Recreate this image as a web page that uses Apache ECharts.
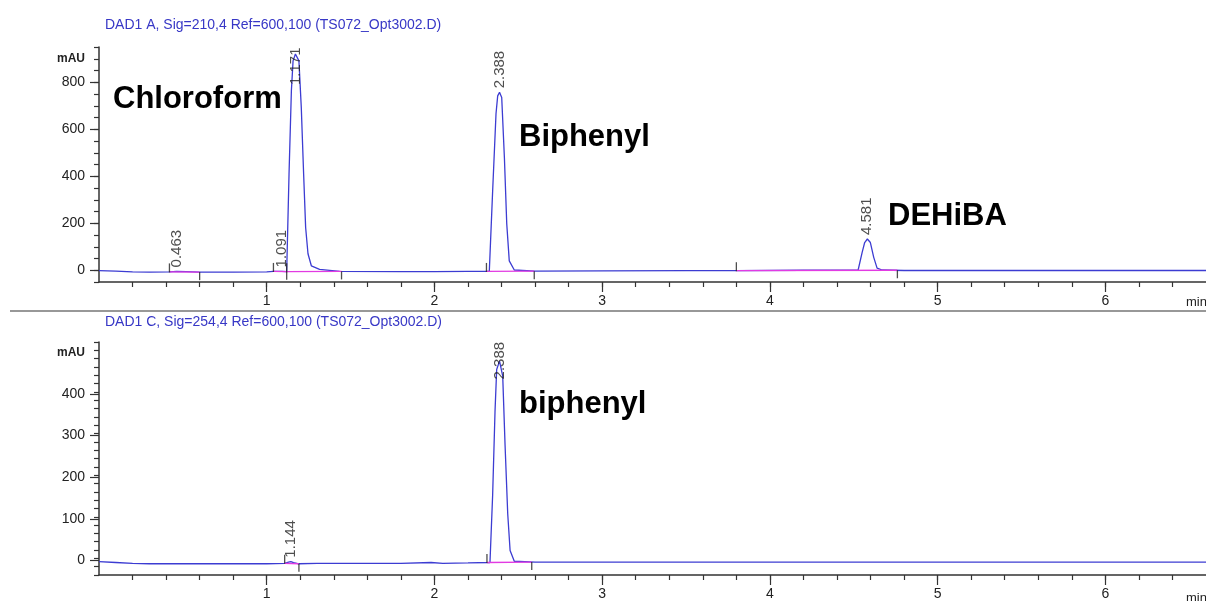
<!DOCTYPE html>
<html>
<head>
<meta charset="utf-8">
<script src="https://cdn.jsdelivr.net/npm/echarts@6/dist/echarts.min.js"></script>
<style>
  html, body { margin: 0; padding: 0; background: #fff; }
  #chart { width: 1206px; height: 601px; }
</style>
</head>
<body>
<div id="chart"></div>
<script>
// ---- Signal A (210 nm) trace: retention time (min) / absorbance (mAU)
const sigATime = [0, 0.1, 0.2, 0.3, 0.42, 0.463, 0.52, 0.6, 0.8, 1.0, 1.04, 1.091, 1.119, 1.133, 1.147, 1.157, 1.171, 1.192, 1.206, 1.220, 1.232, 1.246, 1.266, 1.315, 1.435, 1.8, 2.0, 2.2, 2.327, 2.347, 2.367, 2.377, 2.388, 2.401, 2.417, 2.431, 2.446, 2.476, 2.6, 3.0, 3.5, 3.8, 4.2, 4.526, 4.55, 4.565, 4.581, 4.599, 4.619, 4.639, 4.669, 4.8, 5.5, 6.0, 6.6];
const sigAValue = [-2, -4, -7, -8, -7, -5, -6, -8, -8, -7, -5, -5, -6, 410, 764, 891, 920, 891, 693, 410, 182, 70, 19, 4, -5, -6, -6, -5, -5, 338, 666, 742, 757, 735, 480, 198, 40, 1, -4, -3, -2, -2, 0, 1, 76, 118, 133, 118, 55, 9, 1, -1, -1, -1, -1];

// ---- Signal C (254 nm) trace
const sigCTime = [0, 0.1, 0.2, 0.3, 0.6, 1.0, 1.107, 1.13, 1.144, 1.16, 1.192, 1.3, 1.8, 1.98, 2.05, 2.2, 2.331, 2.347, 2.361, 2.371, 2.388, 2.407, 2.421, 2.437, 2.451, 2.476, 2.6, 3.5, 5.0, 6.6];
const sigCValue = [-3, -5, -7, -8, -8, -8, -7, -4, -3, -5, -8, -7, -7, -5, -7, -6, -5, 158, 357, 459, 479, 443, 277, 111, 24, -2, -4, -4, -4, -4];

// ---- Integrated peaks: retention time and apex height
const peakART = [0.463, 1.091, 1.171, 2.388, 4.581];
const peakAApex = [-5, -5, 920, 757, 133];
const peakCRT = [1.144, 2.388];
const peakCApex = [-3, 479];

// ---- Integration baselines: start/end time and level
const baseAStart = [0.42, 1.04, 1.119, 2.31, 3.80];
const baseAEnd = [0.60, 1.119, 1.446, 2.595, 4.76];
const baseAFrom = [-7, -5, -6, -5, -2];
const baseATo = [-8, -6, -5, -4, 0];
const baseCStart = [1.107, 2.313];
const baseCEnd = [1.192, 2.58];
const baseCFrom = [-7, -5];
const baseCTo = [-8, -4];

// ---- Axis ticks
const timeTicks = [1, 2, 3, 4, 5, 6];
const sigAYTicks = [0, 200, 400, 600, 800];
const sigCYTicks = [0, 100, 200, 300, 400];
const sigAUnitAt = 900;
const sigCUnitAt = 500;

// ---- Headers and compound names
const headerA = 'DAD1 A, Sig=210,4 Ref=600,100 (TS072_Opt3002.D)';
const headerC = 'DAD1 C, Sig=254,4 Ref=600,100 (TS072_Opt3002.D)';

const FONT = '"Liberation Sans", Arial, Helvetica, sans-serif';
const AXIS = '#333';
const TRACE = '#3c3cd2';
const BASE = '#e23be2';

const xMax = 6.6;
const panels = [
  { top: 47, height: 235, yMin: -50, yMax: 950, ticks: sigAYTicks, unitAt: sigAUnitAt, minorStep: 50,
    time: sigATime, value: sigAValue, rt: peakART, apex: peakAApex,
    bStart: baseAStart, bEnd: baseAEnd, bFrom: baseAFrom, bTo: baseATo },
  { top: 342, height: 236, yMin: -35, yMax: 525, ticks: sigCYTicks, unitAt: sigCUnitAt, minorStep: 20,
    time: sigCTime, value: sigCValue, rt: peakCRT, apex: peakCApex,
    bStart: baseCStart, bEnd: baseCEnd, bFrom: baseCFrom, bTo: baseCTo }
];

function range(from, to, step) {
  const out = [];
  for (let v = from; v <= to + 1e-9; v += step) out.push(Math.round(v * 1000) / 1000);
  return out;
}

const grid = [], xAxis = [], yAxis = [], series = [];

panels.forEach((p, gi) => {
  grid.push({ left: 99, right: -3, top: p.top, height: p.height });

  // major time axis with labels
  xAxis.push({
    gridIndex: gi, type: 'value', min: 0, max: xMax, position: 'bottom',
    axisLine: { show: true, onZero: false, lineStyle: { color: AXIS, width: 1.5 } },
    axisTick: { show: true, length: 10, customValues: timeTicks, lineStyle: { color: AXIS, width: 1.2 } },
    axisLabel: { customValues: timeTicks, margin: 12, color: '#222', fontSize: 14, fontFamily: FONT },
    splitLine: { show: false }
  });
  // minor time ticks
  xAxis.push({
    gridIndex: gi, type: 'value', min: 0, max: xMax, position: 'bottom',
    axisLine: { show: false, onZero: false },
    axisTick: { show: true, length: 5, customValues: range(0.2, 6.4, 0.2), lineStyle: { color: AXIS, width: 1.2 } },
    axisLabel: { show: false },
    splitLine: { show: false }
  });

  const labelVals = p.ticks.concat([p.unitAt]);
  // major intensity axis with labels
  yAxis.push({
    gridIndex: gi, type: 'value', min: p.yMin, max: p.yMax, position: 'left',
    axisLine: { show: true, onZero: false, lineStyle: { color: AXIS, width: 1.5 } },
    axisTick: { show: true, length: 9, customValues: p.ticks, lineStyle: { color: AXIS, width: 1.2 } },
    axisLabel: {
      customValues: labelVals, margin: 14, color: '#222', fontSize: 14, fontFamily: FONT,
      formatter: v => (v === p.unitAt ? '{u|mAU}' : String(v)),
      rich: { u: { fontSize: 12, fontWeight: 'bold', fontFamily: FONT, color: '#222' } }
    },
    splitLine: { show: false }
  });
  // minor intensity ticks
  yAxis.push({
    gridIndex: gi, type: 'value', min: p.yMin, max: p.yMax, position: 'left',
    axisLine: { show: false, onZero: false },
    axisTick: { show: true, length: 5, customValues: range(p.yMin, p.yMax, p.minorStep), lineStyle: { color: AXIS, width: 1.2 } },
    axisLabel: { show: false },
    splitLine: { show: false }
  });

  const xi = gi * 2, yi = gi * 2;

  // chromatogram trace
  series.push({
    type: 'line', xAxisIndex: xi, yAxisIndex: yi, symbol: 'none', z: 3,
    data: p.time.map((t, i) => [t, p.value[i]]),
    lineStyle: { color: TRACE, width: 1.3 }
  });

  // integration baselines
  p.bStart.forEach((s, i) => {
    series.push({
      type: 'line', xAxisIndex: xi, yAxisIndex: yi, symbol: 'none', z: 4, silent: true,
      data: [[s, p.bFrom[i]], [p.bEnd[i], p.bTo[i]]],
      lineStyle: { color: BASE, width: 1.3 }
    });
  });

  // peak start / end markers
  series.push({
    type: 'scatter', xAxisIndex: xi, yAxisIndex: yi, z: 5, silent: true,
    symbol: 'rect', symbolSize: [1.3, 9], symbolOffset: [0, -4],
    itemStyle: { color: '#222' },
    data: p.bStart.map((s, i) => [s, p.bFrom[i]])
  });
  series.push({
    type: 'scatter', xAxisIndex: xi, yAxisIndex: yi, z: 5, silent: true,
    symbol: 'rect', symbolSize: [1.3, 8], symbolOffset: [0, 4],
    itemStyle: { color: '#222' },
    data: p.bEnd.map((s, i) => [s, p.bTo[i]])
  });

  // retention-time labels, kept inside the plot area
  const labelPx = 42;
  const unitsPerPx = (p.yMax - p.yMin) / p.height;
  const ceiling = p.yMax - labelPx * unitsPerPx;
  series.push({
    type: 'scatter', xAxisIndex: xi, yAxisIndex: yi, z: 6, silent: true,
    symbolSize: 0,
    data: p.rt.map((t, i) => ({ value: [t, Math.min(p.apex[i], ceiling)], name: t.toFixed(3) })),
    label: {
      show: true, position: 'top', distance: 4, rotate: 90,
      align: 'left', verticalAlign: 'middle',
      formatter: d => d.name, color: '#222', fontSize: 15, fontFamily: FONT
    }
  });
});

const annotations = [
  { text: 'Chloroform', x: 113, y: 99 },
  { text: 'Biphenyl', x: 519, y: 137 },
  { text: 'DEHiBA', x: 888, y: 216 },
  { text: 'biphenyl', x: 519, y: 404 }
];

const graphic = [
  { type: 'text', x: 105, y: 25, style: { text: headerA, fill: '#3737c6', font: '14px ' + FONT, verticalAlign: 'middle' } },
  { type: 'text', x: 105, y: 322, style: { text: headerC, fill: '#3737c6', font: '14px ' + FONT, verticalAlign: 'middle' } },
  { type: 'line', shape: { x1: 10, y1: 311, x2: 1206, y2: 311 }, style: { stroke: '#333', lineWidth: 1.2 } },
  { type: 'text', x: 1186, y: 302, style: { text: 'min', fill: '#222', font: '13px ' + FONT, verticalAlign: 'middle' } },
  { type: 'text', x: 1186, y: 598, style: { text: 'min', fill: '#222', font: '13px ' + FONT, verticalAlign: 'middle' } }
].concat(annotations.map(a => ({
  type: 'text', x: a.x, y: a.y, z: 10,
  style: { text: a.text, fill: '#000', font: 'bold 31px ' + FONT, verticalAlign: 'middle' }
})));

const chart = echarts.init(document.getElementById('chart'), null, { renderer: 'canvas' });
chart.setOption({
  animation: false,
  backgroundColor: '#fff',
  grid, xAxis, yAxis, series, graphic
});
</script>
</body>
</html>
